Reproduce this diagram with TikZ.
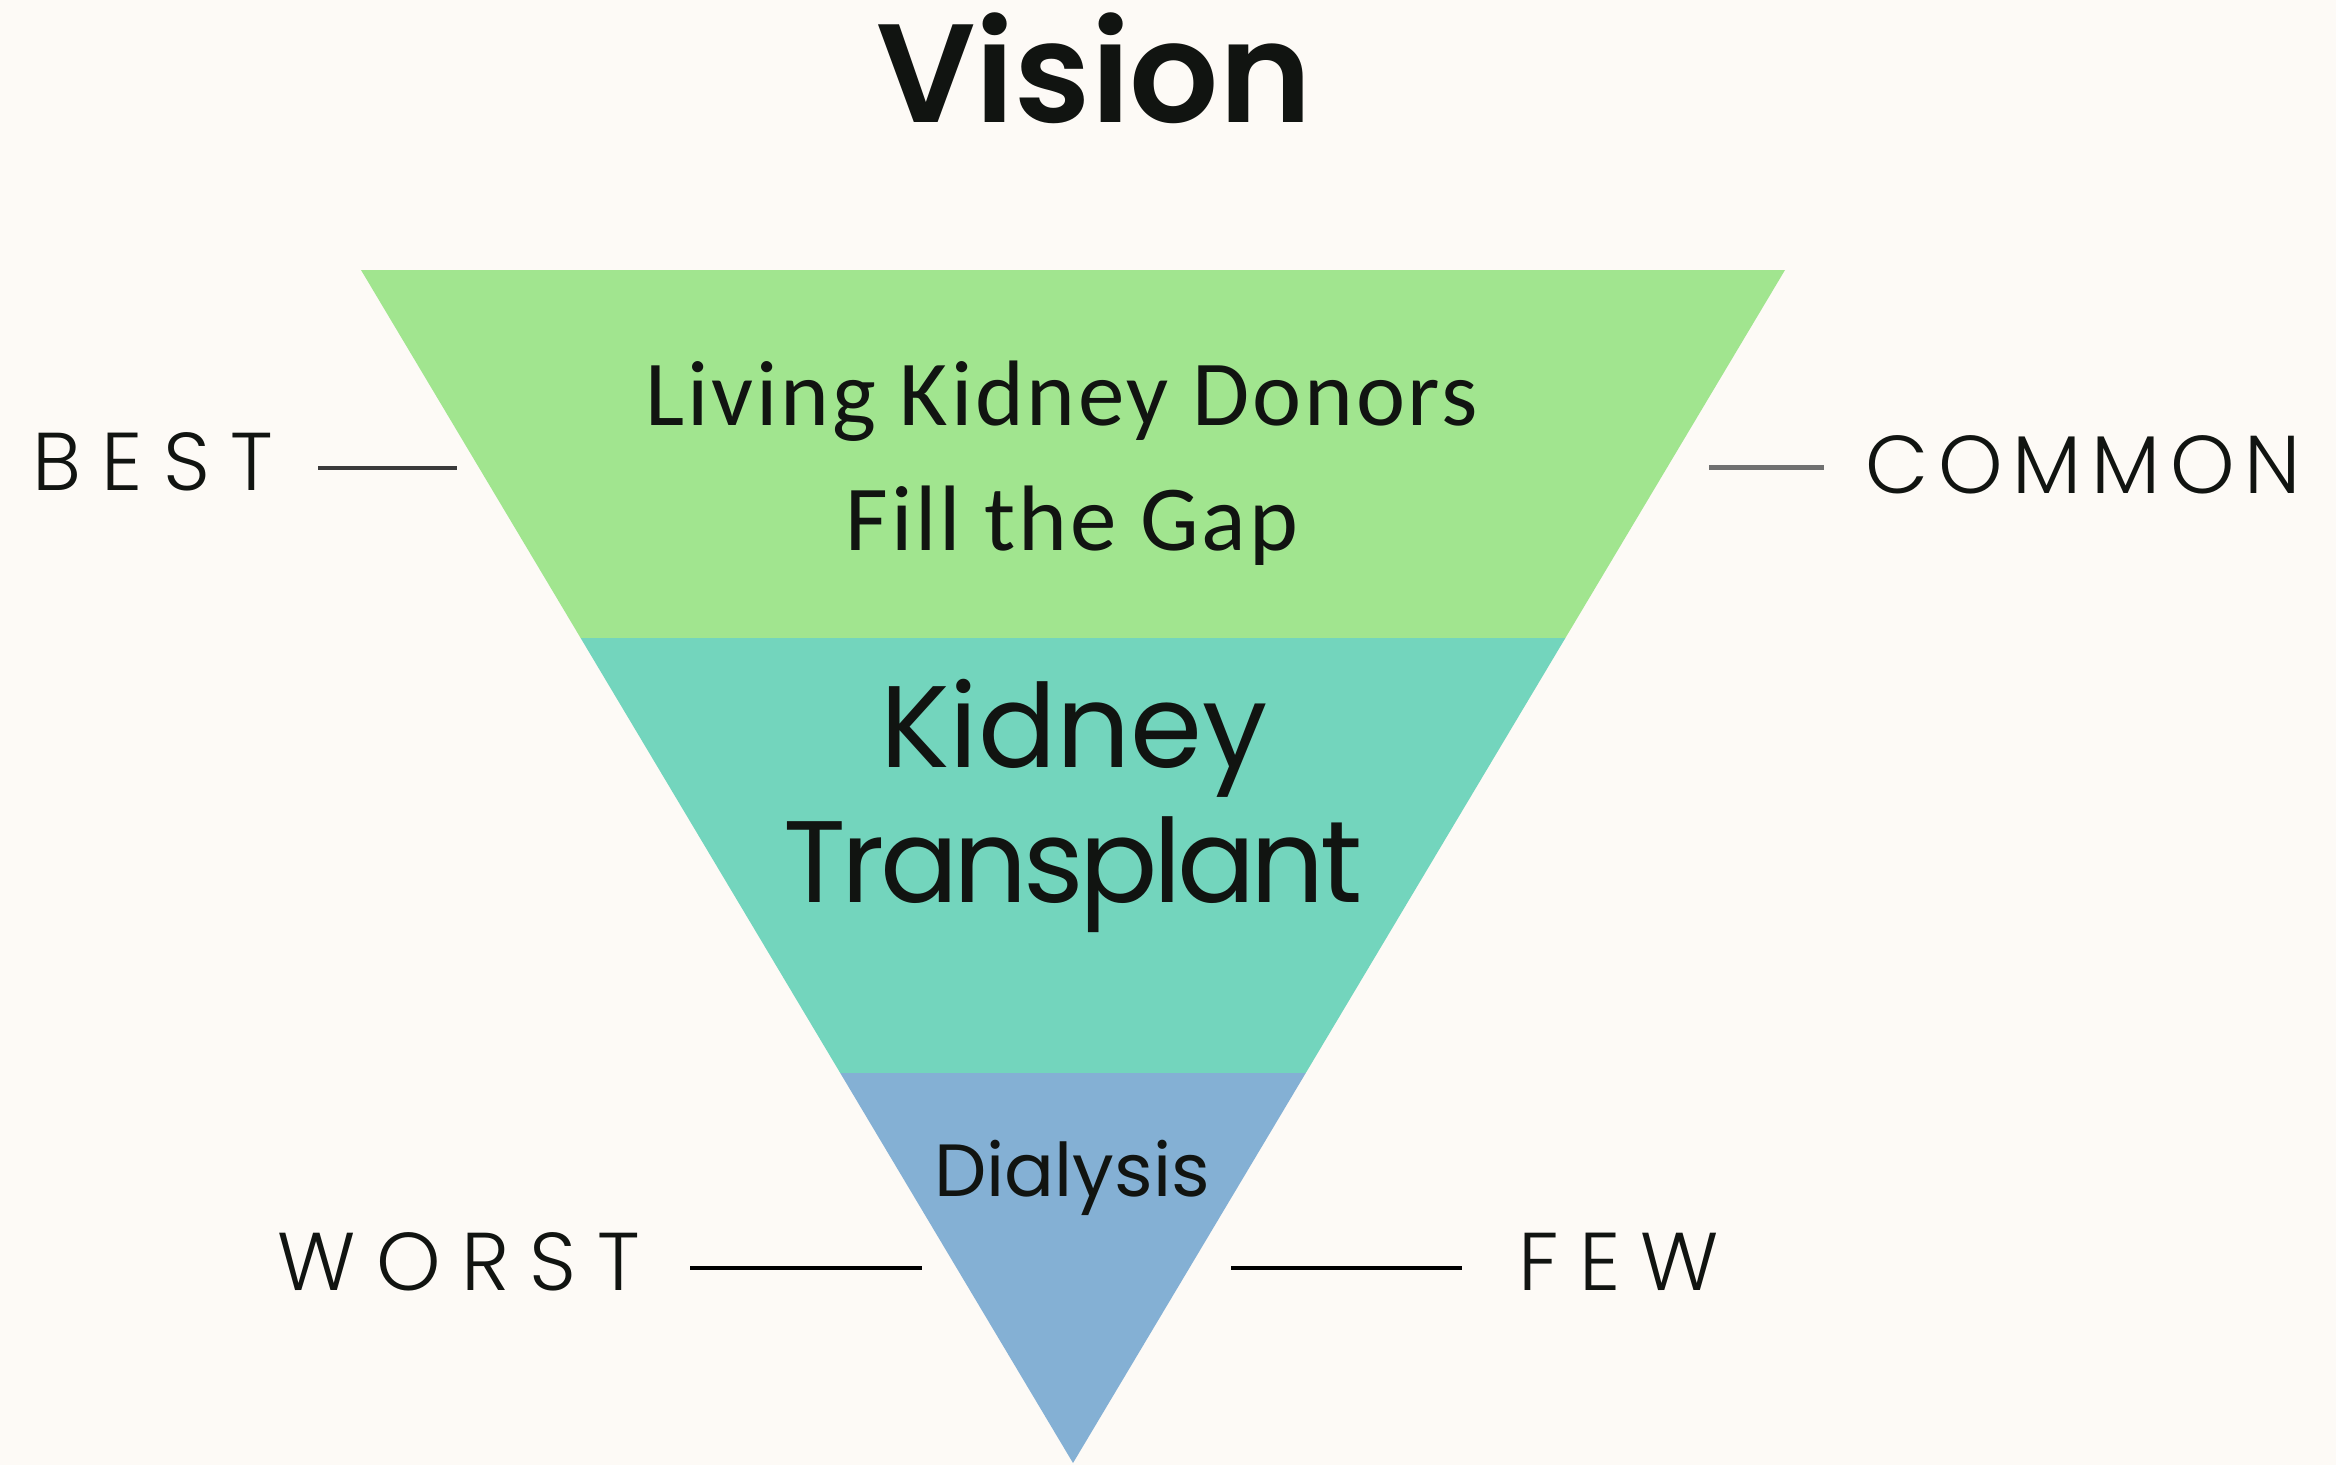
\documentclass[tikz,border=0pt]{standalone}
\usepackage{fontspec}
\usetikzlibrary{calc}
\setmainfont{Poppins}
\newfontfamily\carl{Carlito}[LetterSpace=3]
\IfFontExistsTF{Poppins SemiBold}{\newfontfamily\ttl{Poppins SemiBold}}{\newfontfamily\ttl{Poppins}[UprightFont=*, BoldFont=* Bold]}
\IfFontExistsTF{Poppins Light}{%
  \newfontfamily\lab{Poppins Light}[LetterSpace=25]%
  \newfontfamily\labc{Poppins Light}[LetterSpace=12]}{%
  \newfontfamily\lab{Poppins}[LetterSpace=25]%
  \newfontfamily\labc{Poppins}[LetterSpace=12]}
\definecolor{bg}{RGB}{253,250,246}
\definecolor{bandA}{RGB}{161,229,143}
\definecolor{bandB}{RGB}{115,213,189}
\definecolor{bandC}{RGB}{132,176,212}
\definecolor{ink}{RGB}{17,20,17}
\definecolor{tickdark}{RGB}{58,58,58}
\definecolor{tickgray}{RGB}{112,112,112}
\tikzset{
  txt/.style={inner sep=0pt, text=ink, anchor=base},
  lbl/.style={inner sep=0pt, text=ink, anchor=base west, font=\lab\fontsize{82}{82}\selectfont},
  tick/.style={line width=4pt, draw=black}
}
\begin{document}
\begin{tikzpicture}[x=1pt,y=-1pt]
\fill[bg] (0,0) rectangle (2336,1465);
\useasboundingbox (0,0) rectangle (2336,1465);
% triangle corners
\coordinate (tl) at (361,270);
\coordinate (tr) at (1785,270);
\coordinate (apex) at (1073,1463);
\coordinate (l1) at ($(tl)!0.3085!(apex)$);
\coordinate (r1) at ($(tr)!0.3085!(apex)$);
\coordinate (l2) at ($(tl)!0.6731!(apex)$);
\coordinate (r2) at ($(tr)!0.6731!(apex)$);
\fill[bandA] (tl) -- (tr) -- (r1) -- (l1) -- cycle;
\fill[bandB] (l1) -- (r1) -- (r2) -- (l2) -- cycle;
\fill[bandC] (l2) -- (r2) -- (apex) -- cycle;
% title
\node[txt, font=\ttl\fontsize{140}{140}\selectfont] (title) at (1094,122) {Vision};
% band texts
\node[txt, font=\carl\fontsize{93}{93}\selectfont] (donors1) at (1062,425) {Living Kidney Donors};
\node[txt, font=\carl\fontsize{93}{93}\selectfont] (donors2) at (1072,550) {Fill the Gap};
\node[txt, font=\fontsize{116}{116}\selectfont] (kid1) at (1074,767) {Kidney};
\node[txt, font=\fontsize{116}{116}\selectfont\addfontfeatures{LetterSpace=-4}] (kid2) at (1073,902) {Transplant};
\node[txt, font=\fontsize{74}{74}\selectfont] (dial) at (1072,1196) {Dialysis};
% side labels
\node[lbl] (best) at (32,490) {BEST};
\node[lbl, font=\labc\fontsize{82}{82}\selectfont] (common) at (1865,493) {COMMON};
\node[lbl] (worst) at (277,1290) {WORST};
\node[lbl] (few) at (1518,1290) {FEW};
% ticks
\coordinate (b1) at (318,468); \coordinate (b2) at (457,468);
\coordinate (c1) at (1709,467); \coordinate (c2) at (1824,467);
\coordinate (w1) at (690,1268); \coordinate (w2) at (922,1268);
\coordinate (f1) at (1231,1268); \coordinate (f2) at (1462,1268);
\draw[tick, draw=tickdark] (b1) -- (b2);
\draw[tick, draw=tickgray, line width=5pt] (c1) -- (c2);
\draw[tick, line width=3.5pt] (w1) -- (w2);
\draw[tick, line width=3.5pt] (f1) -- (f2);
\end{tikzpicture}
\end{document}
